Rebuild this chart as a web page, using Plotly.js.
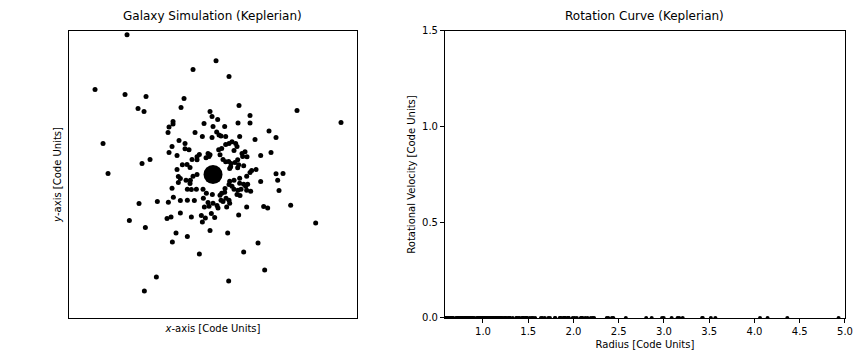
<!DOCTYPE html>
<html>
<head>
<meta charset="utf-8">
<script src="https://cdn.plot.ly/plotly-3.0.1.min.js"></script>
<style>html,body{margin:0;padding:0;background:#fff;}#chart{width:864px;height:360px;}</style>
</head>
<body>
<div id="chart"></div>
<script>
// Particle positions [Code Units]
const posX = [
 -2.58,-0.60,-3.54,-2.64,-2.01,-0.87,-2.25,-2.07,-0.96,-0.09,
 -0.03,-1.20,-1.20,-0.27,-1.32,0.00,-1.35,-0.54,-0.32,-0.03,
 -3.30,-1.02,-0.84,-1.23,-0.84,-0.72,-1.32,-1.08,-0.41,-0.48,
 -0.63,-0.48,-0.15,-0.09,-0.21,-0.12,-1.89,-2.13,-0.92,-0.78,
 -0.69,-1.08,-3.15,-0.60,-0.48,0.09,0.48,0.78,2.52,3.84,
 0.14,0.75,1.11,1.11,0.35,0.11,0.18,0.24,0.38,1.68,
 0.80,1.89,1.26,0.57,0.48,0.68,0.38,0.72,0.26,0.17,
 0.63,0.87,0.96,1.74,1.43,0.21,0.30,0.89,0.38,0.47,
 0.54,0.66,0.77,0.74,0.92,0.50,1.16,1.29,1.11,1.89,
 2.10,1.02,0.74,-1.04,-0.98,-0.81,-0.68,-1.04,-0.69,-1.23,
 -0.77,-0.65,-0.50,-0.30,-0.20,-0.02,-1.19,-1.67,-1.34,-0.98,
 -0.77,-0.56,-0.29,-2.22,-0.15,0.00,-0.12,-0.26,-0.98,
 -1.38,-1.26,-0.65,-0.35,-0.23,-0.32,-0.05,0.05,-2.51,-2.03,
 -1.11,-0.09,-0.77,-1.22,-0.41,-1.70,-2.06,0.53,1.94,
 1.43,0.50,0.63,0.80,1.01,0.48,0.57,0.80,0.92,1.04,
 0.98,0.36,0.63,0.75,0.84,1.01,1.13,1.98,0.26,0.35,
 0.21,0.72,0.81,0.39,0.24,0.30,0.48,0.50,0.41,0.12,
 0.15,1.01,1.52,1.64,2.33,0.77,3.08,0.44,1.35,0.92,
 1.55,0.47,4.50
];
const posY = [
 4.20,3.15,2.55,2.40,2.34,2.28,1.98,1.89,2.01,1.89,
 1.74,1.59,1.52,1.53,1.43,1.44,1.26,1.26,1.14,1.11,
 0.93,1.02,0.93,0.84,0.77,0.74,0.66,0.57,0.60,0.53,
 0.45,0.44,0.63,0.59,0.50,0.54,0.45,0.33,0.29,0.30,
 0.21,0.15,0.03,-0.05,0.00,3.42,2.94,2.07,1.92,1.56,
 1.65,1.55,1.77,1.55,1.44,1.28,1.19,1.16,1.14,1.31,
 1.14,1.11,1.05,0.98,0.93,0.93,0.90,0.84,0.78,0.74,
 0.72,0.63,0.68,0.66,0.57,0.59,0.45,0.54,0.38,0.39,
 0.33,0.36,0.29,0.20,0.26,0.18,0.12,0.15,0.06,0.02,
 0.03,0.53,0.44,-0.06,-0.12,-0.17,-0.17,-0.24,-0.27,-0.41,
 -0.44,-0.45,-0.44,-0.44,-0.56,-0.60,-0.68,-0.81,-0.83,-0.78,
 -0.77,-0.78,-0.71,-0.87,-0.84,-0.86,-0.95,-0.98,-1.16,
 -1.32,-1.28,-1.28,-1.23,-1.31,-1.43,-1.17,-1.29,-1.38,-1.59,
 -1.76,-1.68,-1.86,-2.03,-2.39,-3.08,-3.50,0.23,-0.17,
 -0.21,-0.20,-0.17,-0.11,-0.05,-0.30,-0.35,-0.26,-0.29,-0.29,
 -0.35,-0.42,-0.44,-0.47,-0.44,-0.47,-0.50,-0.48,-0.56,-0.53,
 -0.62,-0.60,-0.63,-0.71,-0.77,-0.81,-0.77,-0.86,-0.98,-0.93,
 -1.01,-0.98,-0.96,-1.01,-0.92,-1.22,-1.46,-1.76,-2.06,-2.33,
 -2.87,-3.20,-1.40
];
// Rotational velocity of each particle [Code Units] (all read as ~0)
const velocity = [
 0,0,0,0,0,0,0,0,0,0, 0,0,0,0,0,0,0,0,0,0,
 0,0,0,0,0,0,0,0,0,0, 0,0,0,0,0,0,0,0,0,0,
 0,0,0,0,0,0,0,0,0,0, 0,0,0,0,0,0,0,0,0,0,
 0,0,0,0,0,0,0,0,0,0, 0,0,0,0,0,0,0,0,0,0,
 0,0,0,0,0,0,0,0,0,0, 0,0,0,0,0,0,0,0,0,0,
 0,0,0,0,0,0,0,0,0,0, 0,0,0,0,0,0,0,0,0,0,
 0,0,0,0,0,0,0,0,0,0, 0,0,0,0,0,0,0,0,0,0,
 0,0,0,0,0,0,0,0,0,0, 0,0,0,0,0,0,0,0,0,0,
 0,0,0,0,0,0,0,0,0,0, 0
];
// Central mass
const centralX = [0];
const centralY = [0];
// Tick values
const radiusTicks = [1.0,1.5,2.0,2.5,3.0,3.5,4.0,4.5,5.0];
const velocityTicks = [0.0,0.5,1.0,1.5];

// radius of each particle from its position
const radius = posX.map((x, i) => Math.sqrt(x * x + posY[i] * posY[i]));

const font = {family: 'DejaVu Sans, sans-serif', color: '#000', size: 10};

const traces = [
  {x: posX, y: posY, type: 'scatter', mode: 'markers', xaxis: 'x', yaxis: 'y',
   marker: {color: '#000', size: 5}, hoverinfo: 'skip'},
  {x: centralX, y: centralY, type: 'scatter', mode: 'markers', xaxis: 'x', yaxis: 'y',
   marker: {color: '#000', size: 19}, hoverinfo: 'skip'},
  {x: radius, y: velocity, type: 'scatter', mode: 'markers', xaxis: 'x2', yaxis: 'y2',
   marker: {color: '#000', size: 4}, cliponaxis: true, hoverinfo: 'skip'}
];

const boxAxis = {showline: true, mirror: true, linecolor: '#000', linewidth: 1,
  showgrid: false, zeroline: false};

const layout = {
  width: 864, height: 360,
  margin: {l: 0, r: 0, t: 0, b: 0},
  paper_bgcolor: '#fff', plot_bgcolor: '#fff',
  showlegend: false,
  font: font,
  xaxis: Object.assign({}, boxAxis, {
    domain: [0.0799, 0.4132], anchor: 'y', range: [-4.32, 4.32],
    showticklabels: false, ticks: '',
    title: {text: '<i>x</i>-axis [Code Units]', font: font, standoff: 7}
  }),
  yaxis: Object.assign({}, boxAxis, {
    domain: [0.1167, 0.9139], anchor: 'x', range: [-4.31, 4.31],
    showticklabels: false, ticks: '',
    title: {text: '<i>y</i>-axis [Code Units]', font: font, standoff: 4}
  }),
  xaxis2: Object.assign({}, boxAxis, {
    domain: [0.5150, 0.9780], anchor: 'y2', range: [0.58, 5.0],
    tickmode: 'array', tickvals: radiusTicks, ticktext: radiusTicks.map(v => v.toFixed(1)),
    ticks: 'outside', ticklen: 4, tickwidth: 1, tickcolor: '#000',
    tickfont: font,
    title: {text: 'Radius [Code Units]', font: font, standoff: 5}
  }),
  yaxis2: Object.assign({}, boxAxis, {
    domain: [0.1167, 0.9139], anchor: 'x2', range: [0, 1.5],
    tickmode: 'array', tickvals: velocityTicks, ticktext: velocityTicks.map(v => v.toFixed(1)),
    ticks: 'outside', ticklen: 4, tickwidth: 1, tickcolor: '#000',
    tickfont: font,
    title: {text: 'Rotational Velocity [Code Units]', font: font, standoff: 4}
  }),
  annotations: [
    {text: 'Galaxy Simulation (Keplerian)', xref: 'paper', yref: 'paper',
     x: 0.2465, y: 0.9139, xanchor: 'center', yanchor: 'bottom', yshift: 6,
     showarrow: false, font: {family: font.family, size: 12, color: '#000'}},
    {text: 'Rotation Curve (Keplerian)', xref: 'paper', yref: 'paper',
     x: 0.7465, y: 0.9139, xanchor: 'center', yanchor: 'bottom', yshift: 6,
     showarrow: false, font: {family: font.family, size: 12, color: '#000'}}
  ]
};

Plotly.newPlot('chart', traces, layout, {staticPlot: true, displayModeBar: false});
</script>
</body>
</html>
